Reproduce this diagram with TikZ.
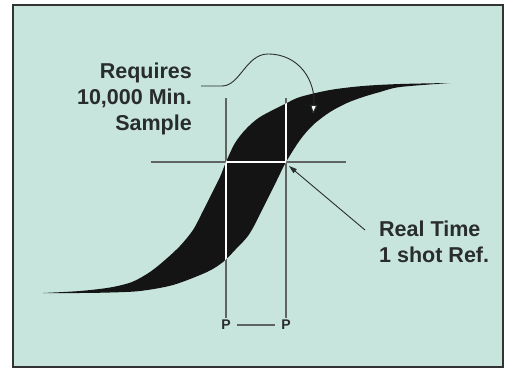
\documentclass[tikz,border=0pt]{standalone}
\usepackage{fontspec}
\setmainfont{Liberation Sans}
\usetikzlibrary{arrows.meta}
\definecolor{bgteal}{RGB}{199,229,220}
\definecolor{txt}{RGB}{40,44,44}
\definecolor{lin}{RGB}{95,100,98}
\definecolor{frm}{RGB}{50,52,52}
\tikzset{
  lbl/.style={font=\bfseries\fontsize{21.5}{26}\selectfont, text=txt, inner sep=0pt},
  plbl/.style={font=\bfseries\fontsize{14}{16}\selectfont, text=txt, inner sep=0pt},
  guide/.style={draw=lin, line width=1.1pt},
  wguide/.style={draw=white, line width=1.1pt},
  pointer/.style={draw=txt, line width=0.9pt}
}
\begin{document}
\begin{tikzpicture}[x=1pt,y=-1pt]
\useasboundingbox (0,0) rectangle (511,369);
\fill[white] (0,0) rectangle (511,369);
\fill[bgteal] (13,5) rectangle (503,367);
\draw[frm, line width=2.5pt] (13,5) rectangle (503,367);

% band
\fill[black!92] plot[smooth] coordinates {(43,293) (80,291) (110,287.5) (132,282) (150,272) (165,260) (180,246) (193,230) (203,211) (212,193) (220,177) (226,162) (235,143) (246,129) (260,117) (285,104) (300,97) (330,90) (363,86) (400,84) (450,83)}
 -- plot[smooth] coordinates {(450,83) (400,87) (380,92) (363,97) (347,103) (330,112) (313,125) (300,140) (286,162) (277,180) (267,200) (250,233) (235,250) (223,262) (207,272) (173,285) (140,291) (110,292.5) (80,293) (43,293)} -- cycle;

% guide lines
\coordinate (v1t) at (226,98);
\coordinate (v1b) at (226,318);
\coordinate (v2t) at (286,98);
\coordinate (v2b) at (286,318);
\coordinate (hl) at (151,162);
\coordinate (hr) at (346,162);
\draw[guide] (v1t) -- (v1b);
\draw[guide] (v2t) -- (v2b);
\draw[guide] (hl) -- (hr);
\begin{scope}
\clip plot[smooth] coordinates {(43,293) (80,291) (110,287.5) (132,282) (150,272) (165,260) (180,246) (193,230) (203,211) (212,193) (220,177) (226,162) (235,143) (246,129) (260,117) (285,104) (300,97) (330,90) (363,86) (400,84) (450,83)}
 -- plot[smooth] coordinates {(450,83) (400,87) (380,92) (363,97) (347,103) (330,112) (313,125) (300,140) (286,162) (277,180) (267,200) (250,233) (235,250) (223,262) (207,272) (173,285) (140,291) (110,292.5) (80,293) (43,293)} -- cycle;
\draw[wguide] (v1t) -- (v1b);
\draw[wguide] (v2t) -- (v2b);
\draw[wguide] (hl) -- (hr);
\end{scope}

% labels
\node[lbl, align=right, anchor=east] (req) at (192,99) {Requires\\10,000 Min.\\Sample};
\node[lbl, align=left, anchor=west] (rt) at (379,242) {Real Time\\1 shot Ref.};
\node[plbl] (p1) at (226,325) {P};
\node[plbl] (p2) at (286,325) {P};
\draw[guide, shorten <=6pt, shorten >=6pt] (p1.east) -- (p2.west);

% curved arrow
\coordinate (cs) at (201,86);
\coordinate (ct) at (313,114);
\draw[pointer, -{Triangle[length=9pt,width=7pt,fill=white]}] (cs) -- (222,86) .. controls (240,86) and (246,54) .. (268,54) .. controls (300,54) and (316,82) .. (ct);

% straight arrow
\coordinate (as) at (365,230);
\coordinate (at) at (289,166);
\draw[pointer, -{Triangle[length=8pt,width=5pt]}] (as) -- (at);
\end{tikzpicture}
\end{document}
